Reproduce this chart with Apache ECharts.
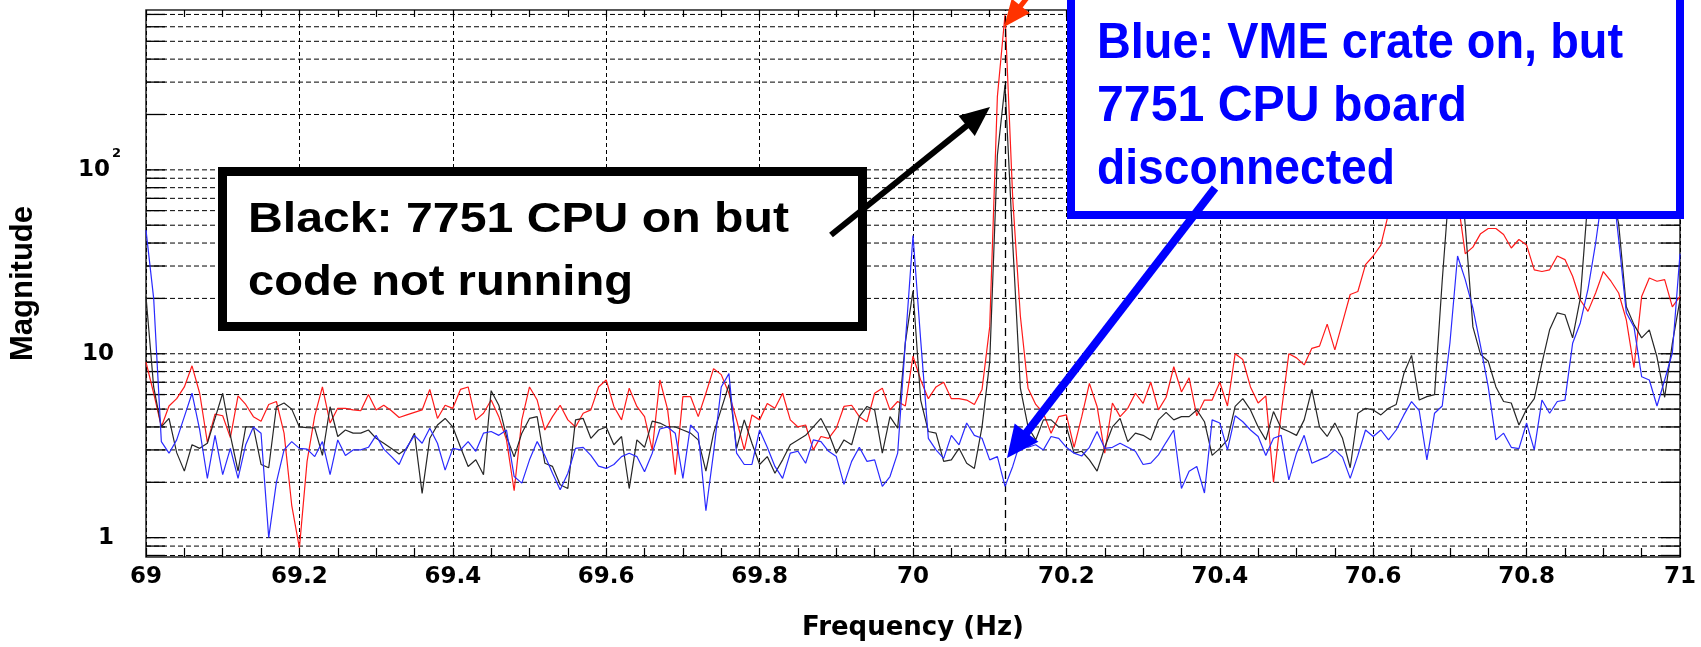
<!DOCTYPE html>
<html><head><meta charset="utf-8">
<script src="https://cdn.jsdelivr.net/npm/echarts@6/dist/echarts.min.js"></script>
<style>html,body{margin:0;padding:0;background:#fff}#c{width:1701px;height:647px}</style>
</head><body><div id="c"></div>
<script>
// ---------- data ----------
const FREQ_START = 69;      // Hz, first sample
const FREQ_STEP = 0.01;     // Hz, sample spacing used for reading
const X_MIN = 69, X_MAX = 71, X_INTERVAL = 0.2;
const Y_MIN = 0.785, Y_MAX = 740;
const PEAK_FREQ = 70.12;    // dashed marker line

// Red trace
const redVals = [
 9.0,6.1,4.0,5.2,5.7,6.6,8.6,6.1,3.3,4.7,
 4.6,3.5,5.9,5.3,4.55,4.3,5.3,5.5,3.7,1.5,
 0.88,2.6,4.6,6.6,4.2,5.05,5.05,4.95,4.9,6.0,
 4.95,5.25,4.9,4.5,4.65,4.8,4.95,6.4,4.45,5.25,
 5.05,6.4,6.6,4.37,4.75,5.6,4.55,3.4,1.8,4.37,
 6.6,5.6,3.85,4.55,5.25,4.37,4.0,4.75,4.95,6.6,
 7.2,5.17,4.37,6.5,5.17,4.55,3.0,7.2,5.0,2.2,
 5.85,5.85,4.55,6.1,8.3,7.7,6.1,4.37,3.0,4.65,
 4.37,5.37,5.05,6.1,4.37,4.0,4.1,3.0,3.55,3.47,
 3.94,5.17,5.25,4.55,4.27,6.1,6.5,4.95,5.5,5.2,
 9.7,7.2,5.7,6.6,7.0,5.7,5.7,5.6,5.3,6.4,
 14,250,700,70,16,6.5,5.3,4.75,3.7,4.55,
 4.65,3.1,4.55,6.9,5.17,2.88,5.4,4.55,5.05,6.1,
 5.37,7.0,4.95,5.8,8.5,6.2,7.4,4.6,5.6,5.6,
 7.0,5.2,10,9.3,6.6,5.4,5.9,2.0,4.75,10,
 9.5,8.7,10.7,11,14.5,10.5,14.8,21,21.8,30.5,
 34,39,58,80,120,170,200,180,140,110,
 90,70,35,38,45,48,48,44.5,37.6,41.8,
 39,28.6,28,28.6,34,32.5,26.4,19.6,17,21.4,
 28,24.8,21.4,15.3,8.4,20.5,25.8,24.8,25.3,18,
 20.5];

// Black trace
const blackVals = [
 20.5,6.6,4.0,4.45,2.9,2.3,3.2,3.06,3.26,4.45,
 6.1,3.6,2.3,4.0,4.0,2.5,2.4,5.15,5.4,5.0,
 4.0,3.97,3.95,2.8,5.15,3.55,3.85,3.7,3.7,3.85,
 3.47,3.26,3.05,2.85,3.05,3.7,1.74,3.47,4.1,4.45,
 4.0,3.1,2.44,2.65,2.2,6.3,5.25,3.55,2.75,3.7,
 4.45,4.55,2.54,2.44,1.94,1.85,4.37,4.45,3.47,3.85,
 4.0,3.2,3.55,1.85,3.4,3.1,4.3,4.2,4.0,4.0,
 3.85,3.7,3.4,2.3,3.7,5.0,6.8,3.06,4.37,3.26,
 2.5,2.76,2.24,2.65,3.2,3.4,3.6,4.0,4.45,3.7,
 2.88,3.4,3.2,4.55,5.17,4.95,2.88,4.55,3.94,11.5,
 22,5.6,3.78,3.7,2.6,2.65,3.06,2.54,2.38,4.0,
 9,120,290,40,6.5,4.0,3.4,4.37,4.37,4.0,
 4.0,2.88,2.95,2.65,2.3,3.1,4.0,4.45,3.33,3.7,
 3.6,3.4,4.37,4.8,4.37,4.55,4.55,4.95,4.27,2.8,
 3.06,3.4,5.17,5.7,4.95,4.0,3.4,4.85,3.94,3.78,
 3.6,4.37,6.4,4.0,3.55,4.2,3.47,2.4,4.75,5.05,
 4.95,4.65,5.05,5.3,7.8,9.8,5.6,5.85,6.0,25,
 90,150,50,14,9.9,9.1,6.6,5.5,5.4,4.1,
 5.0,5.7,8.9,13.5,16.7,16.3,12.2,20,70,110,
 140,80,51,18,14.4,12.2,13.5,9.6,5.8,11.4,
 19.7];

// Blue trace
const blueVals = [
 47,20,3.33,2.88,3.4,4.55,6.1,3.85,2.1,3.6,
 2.2,3.06,2.1,3.2,4.0,3.7,1.0,2.0,3.0,3.33,
 3.06,3.03,2.76,3.33,2.2,3.4,2.8,3.0,3.0,3.1,
 3.6,3.03,2.76,2.5,3.1,3.6,3.26,3.94,3.26,2.33,
 3.06,3.0,3.33,2.95,3.7,3.78,3.6,3.85,2.15,1.98,
 2.65,3.33,2.8,2.24,1.82,2.24,3.06,3.1,2.8,2.45,
 2.38,2.5,2.76,2.88,2.76,2.28,2.88,3.9,4.0,3.7,
 2.1,4.1,3.7,1.4,2.9,6.6,7.8,2.88,2.5,2.5,
 3.85,3.1,2.44,2.1,2.88,2.95,2.54,3.4,3.33,2.95,
 2.76,1.95,2.6,3.1,2.6,2.65,1.9,2.15,2.88,11.5,
 44,11.9,3.47,3.0,2.7,3.6,3.2,4.2,3.6,3.47,
 2.65,2.76,1.9,2.44,3.33,3.1,3.2,3.0,3.55,3.47,
 3.1,2.88,2.78,3.1,3.78,3.06,3.1,3.26,3.1,2.95,
 2.5,2.54,2.82,3.3,3.85,1.85,2.3,2.44,1.75,4.37,
 4.2,3.0,4.6,4.27,3.85,3.55,2.8,3.47,3.6,2.06,
 2.88,3.6,2.54,2.65,2.76,3.0,2.74,2.1,2.8,3.85,
 3.55,3.85,3.4,3.85,4.65,5.5,4.9,2.65,4.75,5.2,
 11.4,34,25.3,17.7,11,6.6,3.4,3.7,3.1,3.05,
 4.2,3.0,5.6,4.75,5.5,5.6,11.4,14.7,22.4,40,
 80,100,42,16.7,14,7.5,7.2,5.2,7.2,10.1,
 35];

// Horizontal grid lines (log decades with 2..9 subdivisions)
const Y_GRID_VALUES = [0.8,0.9,1,2,3,4,5,6,7,8,9,10,20,30,40,50,60,70,80,90,100,200,300,400,500,600,700];
// Y tick labels
const Y_TICK_VALUES = [1, 10, 100];
const Y_TICK_TEXT = ['{m|1}', '{m|10}', '{n|10}{s|2}'];

// Annotation texts
const BLACK_LINES = ['Black: 7751 CPU on but', 'code not running'];
const BLUE_LINES = ['Blue: VME crate on, but', '7751 CPU board', 'disconnected'];

// ---------- build ----------
function pairs(vals){ return vals.map((v,i)=>[+(FREQ_START + i*FREQ_STEP).toFixed(3), v]); }

const chart = echarts.init(document.getElementById('c'), null, {renderer:'canvas'});

function measure(text, font){
  const c = document.createElement('canvas').getContext('2d');
  c.font = font; return c.measureText(text).width;
}
const ANN_FAMILY = '"Liberation Sans", Arial, sans-serif';
const blackFont = 'bold 42px ' + ANN_FAMILY;
const blueFont = 'bold 50px ' + ANN_FAMILY;
const BLACK_WIDTHS = [541, 385];
const BLUE_WIDTHS = [526, 370, 298];

function annText(txt, x, baseline, cap, font, width, color){
  const sx = width / measure(txt, font);
  return {type:'text', x:x, y:baseline - cap/2, scaleX:sx, z:120,
    style:{text:txt, x:0, y:0, font:font, fill:color, textAlign:'left', textVerticalAlign:'middle', align:'left', verticalAlign:'middle'}};
}
function arrow(x1,y1,x2,y2,headLen,headW,color,lw){
  const dx=x2-x1, dy=y2-y1, L=Math.hypot(dx,dy), ux=dx/L, uy=dy/L;
  const bx=x2-ux*headLen, by=y2-uy*headLen, nx=-uy, ny=ux;
  return [
    {type:'line', z:130, shape:{x1:x1,y1:y1,x2:bx+ux*2,y2:by+uy*2}, style:{stroke:color, lineWidth:lw, lineCap:'butt'}},
    {type:'polygon', z:131, shape:{points:[[x2,y2],[bx+nx*headW/2,by+ny*headW/2],[bx-nx*headW/2,by-ny*headW/2]]}, style:{fill:color}}
  ];
}

const TICK_LEN_Y = 19;
function renderYGrid(params, api){
  const v = api.value(1);
  const y = api.coord([X_MIN, v])[1];
  const cs = params.coordSys;
  const x0 = cs.x, x1 = cs.x + cs.width;
  return {type:'group', children:[
    {type:'line', shape:{x1:x0, y1:y, x2:x1, y2:y}, style:{stroke:'#000', lineWidth:1, lineDash:[5,3]}},
    {type:'line', shape:{x1:x0, y1:y, x2:x0+TICK_LEN_Y, y2:y}, style:{stroke:'#000', lineWidth:1.3}},
    {type:'line', shape:{x1:x1-TICK_LEN_Y, y1:y, x2:x1, y2:y}, style:{stroke:'#000', lineWidth:1.3}}
  ]};
}

const LABEL_FONT = 'DejaVu Sans';

const option = {
  animation:false,
  backgroundColor:'#fff',
  textStyle:{fontFamily:LABEL_FONT},
  grid:{left:146, right:21, top:10, bottom:90, show:true, borderColor:'#222', borderWidth:1.5, backgroundColor:'transparent', outerBoundsMode:'none', containLabel:false},
  xAxis:[{
    type:'value', min:X_MIN, max:X_MAX, interval:X_INTERVAL, position:'bottom',
    name:'Frequency (Hz)', nameLocation:'middle', nameGap:58,
    nameTextStyle:{fontFamily:LABEL_FONT, fontWeight:'bold', fontSize:26, color:'#000'},
    axisLine:{show:false},
    axisTick:{show:true, inside:true, length:9, lineStyle:{color:'#000', width:1.2}},
    minorTick:{show:true, splitNumber:4, length:9, lineStyle:{color:'#000', width:1.2}},
    splitLine:{show:true, lineStyle:{color:'#000', width:1, type:[4,3]}},
    axisLabel:{margin:9, fontFamily:LABEL_FONT, fontWeight:'bold', fontSize:23, color:'#000',
      formatter:v=>String(+v.toFixed(1))}
  },{
    type:'value', min:X_MIN, max:X_MAX, interval:X_INTERVAL, position:'top',
    axisLine:{show:false}, axisLabel:{show:false}, splitLine:{show:false},
    axisTick:{show:true, inside:true, length:7, lineStyle:{color:'#000', width:1.2}},
    minorTick:{show:true, splitNumber:4, length:7, lineStyle:{color:'#000', width:1.2}}
  }],
  yAxis:{
    type:'log', logBase:10, min:Y_MIN, max:Y_MAX,
    name:'Magnitude', nameLocation:'middle', nameGap:107,
    nameTextStyle:{fontFamily:'"Liberation Sans", Arial', fontWeight:'bold', fontSize:31, color:'#000'},
    axisLine:{show:false}, axisTick:{show:false}, splitLine:{show:false}, minorTick:{show:false},
    axisLabel:{margin:25, showMinLabel:false, showMaxLabel:false, color:'#000',
      formatter:function(v){
        const i = Y_TICK_VALUES.findIndex(t=>Math.abs(Math.log10(v)-Math.log10(t))<1e-6);
        return i<0 ? '' : Y_TICK_TEXT[i];
      },
      rich:{
        n:{fontFamily:LABEL_FONT, fontWeight:'bold', fontSize:23, color:'#000'},
        m:{fontFamily:LABEL_FONT, fontWeight:'bold', fontSize:23, color:'#000', padding:[0,7,0,0]},
        s:{fontFamily:LABEL_FONT, fontWeight:'bold', fontSize:13, color:'#000', verticalAlign:'top', padding:[0,0,33,2]}
      }
    }
  },
  series:[
    {type:'custom', name:'ygrid', renderItem:renderYGrid, data:Y_GRID_VALUES.map(v=>[X_MIN, v]), z:1, silent:true, clip:false},
    {type:'line', name:'red', data:pairs(redVals), symbol:'none', z:3, lineStyle:{color:'#ff1a1a', width:1.2},
      markLine:{silent:true, symbol:'none', label:{show:false}, lineStyle:{color:'#000', width:1.3, type:[8,5]}, data:[{xAxis:PEAK_FREQ}]}},
    {type:'line', name:'black', data:pairs(blackVals), symbol:'none', z:4, lineStyle:{color:'#262626', width:1.2}},
    {type:'line', name:'blue', data:pairs(blueVals), symbol:'none', z:5, lineStyle:{color:'#2a2aff', width:1.2}}
  ],
  graphic:{elements:[
    // black annotation box
    {type:'rect', z:110, shape:{x:222.5, y:171.5, width:640, height:155}, style:{fill:'#fff', stroke:'#000', lineWidth:9}},
    annText(BLACK_LINES[0], 248, 235, 30, blackFont, BLACK_WIDTHS[0], '#000'),
    annText(BLACK_LINES[1], 248, 298, 30, blackFont, BLACK_WIDTHS[1], '#000'),
    // blue annotation box
    {type:'rect', z:110, shape:{x:1071, y:-20, width:609, height:235}, style:{fill:'#fff', stroke:'#0000ff', lineWidth:8}},
    annText(BLUE_LINES[0], 1097, 62, 36, blueFont, BLUE_WIDTHS[0], '#0000ff'),
    annText(BLUE_LINES[1], 1097, 125, 36, blueFont, BLUE_WIDTHS[1], '#0000ff'),
    annText(BLUE_LINES[2], 1097, 188, 36, blueFont, BLUE_WIDTHS[2], '#0000ff'),
    // arrows
    ...arrow(831, 235, 990, 107, 30, 26, '#000', 6),
    ...arrow(1215, 188, 1007, 458, 32, 30, '#0000ff', 8),
    ...arrow(1045, -25, 1004, 27, 27, 23, '#ff3300', 5)
  ]}
};
chart.setOption(option);
</script></body></html>
